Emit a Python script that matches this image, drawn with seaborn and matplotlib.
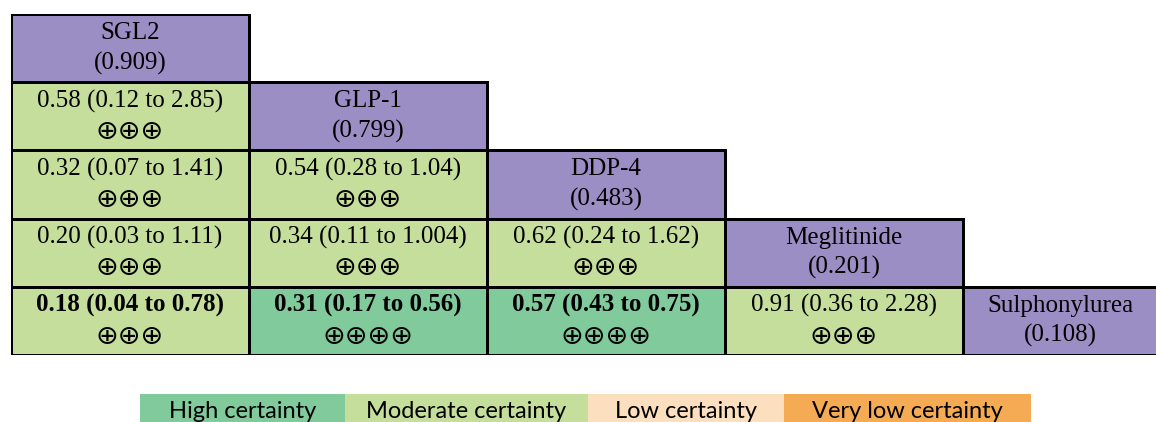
import numpy as np
import pandas as pd
import matplotlib
matplotlib.use("Agg")
import matplotlib.pyplot as plt
from matplotlib.colors import ListedColormap
import seaborn as sns

# ---- data ----
treatments = ["SGL2", "GLP-1", "DDP-4", "Meglitinide", "Sulphonylurea"]
scores = ["0.909", "0.799", "0.483", "0.201", "0.108"]
# lower-triangle comparisons, row-wise (row i vs column j, j < i)
pairs = [(1, 0), (2, 0), (2, 1), (3, 0), (3, 1), (3, 2), (4, 0), (4, 1), (4, 2), (4, 3)]
estimates = ["0.58", "0.32", "0.54", "0.20", "0.34", "0.62", "0.18", "0.31", "0.57", "0.91"]
lowers = ["0.12", "0.07", "0.28", "0.03", "0.11", "0.24", "0.04", "0.17", "0.43", "0.36"]
uppers = ["2.85", "1.41", "1.04", "1.11", "1.004", "1.62", "0.78", "0.56", "0.75", "2.28"]
certainty = ["Moderate", "Moderate", "Moderate", "Moderate", "Moderate", "Moderate",
             "Moderate", "High", "High", "Moderate"]
significant = [False, False, False, False, False, False, True, True, True, False]
legend_labels = ["High certainty", "Moderate certainty", "Low certainty", "Very low certainty"]

# ---- styles ----
purple = "#9b8ec4"
cert_colors = {"High": "#80ca9c", "Moderate": "#c5de9b", "Low": "#fbdfbf", "Very low": "#f4ab54"}
cert_order = ["High", "Moderate", "Low", "Very low"]
symbols = {"High": "\u2295\u2295\u2295\u2295", "Moderate": "\u2295\u2295\u2295",
           "Low": "\u2295\u2295", "Very low": "\u2295"}
legend_widths = [205, 243, 196, 247]  # layout (pixels)
visible_cols = 4.82                  # the last column is cut by the figure edge

n = len(treatments)
mat = np.full((n, n), np.nan)
for i in range(n):
    mat[i, i] = 0
for (i, j), c in zip(pairs, certainty):
    mat[i, j] = 1 + cert_order.index(c)
mask = np.isnan(mat)
df = pd.DataFrame(mat, index=treatments, columns=treatments)

cmap = ListedColormap([purple] + [cert_colors[c] for c in cert_order])

fig = plt.figure(figsize=(11.56, 4.22), dpi=100)
W, H = 1156, 422
ax = fig.add_axes([11 / W, 67 / H, 1147 / W, 341 / H])
sns.heatmap(df, mask=mask, cmap=cmap, vmin=-0.5, vmax=4.5, cbar=False,
            linewidths=1.8, linecolor="black", ax=ax)
mesh = ax.collections[0]
edge = np.zeros((n * n, 4))
edge[~mask.ravel(), 3] = 1.0
mesh.set_edgecolors(edge)
ax.set_xlim(0, visible_cols)
ax.set_xticks([]); ax.set_yticks([])
ax.set_xlabel(""); ax.set_ylabel("")


def xc(j):
    return (j + min(j + 1, visible_cols)) / 2


serif = ["Liberation Serif", "DejaVu Sans"]
fs = 18
dy = 0.22
for i in range(n):
    ax.text(xc(i), i + 0.5 - dy, treatments[i], ha="center", va="center",
            fontsize=fs, family=serif)
    ax.text(xc(i), i + 0.5 + dy, f"({scores[i]})", ha="center", va="center",
            fontsize=fs, family=serif)
for (i, j), e, lo, up, c, sig in zip(pairs, estimates, lowers, uppers, certainty, significant):
    w = "bold" if sig else "normal"
    ax.text(xc(j), i + 0.5 - dy, f"{e} ({lo} to {up})", ha="center", va="center",
            fontsize=fs, family=serif, fontweight=w)
    ax.text(xc(j), i + 0.5 + dy + 0.01, symbols[c], ha="center", va="center",
            fontsize=19.5, family=["DejaVu Sans"])

# ---- legend ----
lax = fig.add_axes([140 / W, -8 / H, sum(legend_widths) / W, 36 / H])
lefts = np.concatenate([[0], np.cumsum(legend_widths)[:-1]])
lax.barh([0] * 4, legend_widths, left=lefts, height=1,
         color=[cert_colors[c] for c in cert_order], edgecolor="none")
for l, w_, lab in zip(lefts, legend_widths, legend_labels):
    lax.text(l + w_ / 2, 0.02, lab, ha="center", va="center", fontsize=17,
             family=["Lato", "DejaVu Sans"])
lax.set_xlim(0, sum(legend_widths))
lax.set_ylim(-0.5, 0.5)
lax.axis("off")

fig.savefig("out.png", dpi=100)
